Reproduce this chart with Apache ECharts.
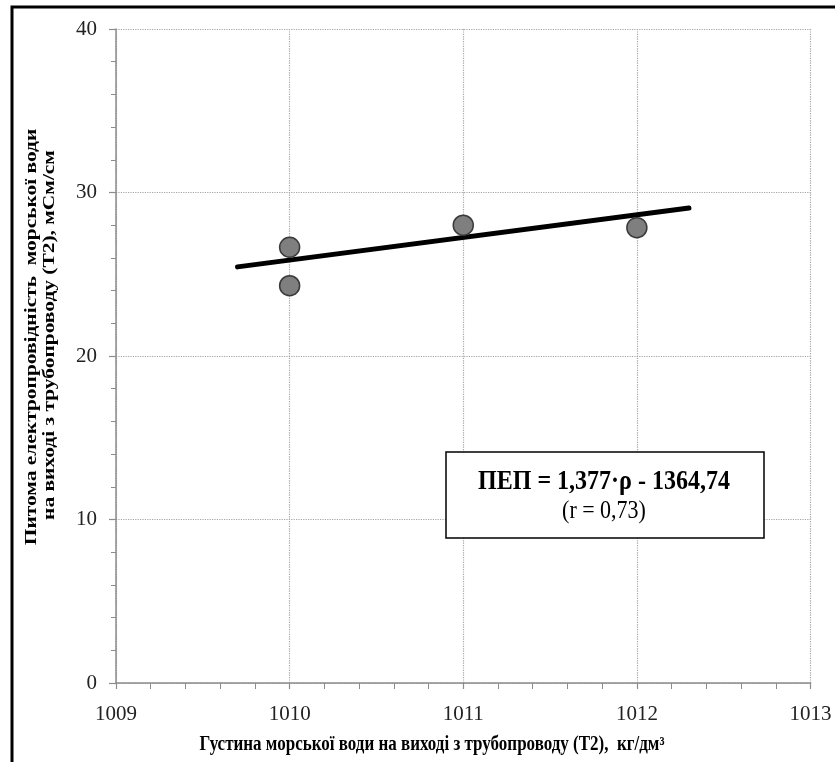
<!DOCTYPE html>
<html>
<head>
<meta charset="utf-8">
<script src="https://cdn.jsdelivr.net/npm/echarts@6/dist/echarts.min.js"></script>
<style>
html,body{margin:0;padding:0;background:#fff;}
#chart{width:835px;height:762px;}
</style>
</head>
<body>
<div id="chart"></div>
<script>
// Data
const densityX = [1010, 1010, 1011, 1012];
const conductivityY = [26.65, 24.3, 28.0, 27.85];
const trendX = [1009.7, 1012.3];
const trendY = [25.45, 29.05];
const xTicks = [1009, 1010, 1011, 1012, 1013];
const yTicks = [0, 10, 20, 30, 40];

const xTitle = 'Густина морської води на виході з трубопроводу (Т2),  кг/дм³';
const yTitle1 = 'Питома електропровідність  морської води';
const yTitle2 = 'на виході з трубопроводу (Т2), мСм/см';
const eqLine1 = 'ПЕП = 1,377·ρ - 1364,74';
const eqLine2 = '(r = 0,73)';

const chart = echarts.init(document.getElementById('chart'), null, {renderer: 'canvas'});
const serif = '"Liberation Serif", "DejaVu Serif", serif';
const axisGray = '#8c8c8c';
const gridGray = '#a6a6a6';

const option = {
  backgroundColor: '#fff',
  animation: false,
  grid: {left: 116, right: 24.5, top: 29, bottom: 79, containLabel: false},
  xAxis: {
    type: 'value',
    min: xTicks[0], max: xTicks[xTicks.length - 1], interval: 1,
    axisLine: {show: true, lineStyle: {color: axisGray, width: 1.5}},
    axisTick: {show: true, length: 6, lineStyle: {color: axisGray, width: 1.2}},
    minorTick: {show: true, splitNumber: 5, length: 6, lineStyle: {color: axisGray, width: 1}},
    axisLabel: {margin: 21, fontFamily: serif, fontSize: 21, color: '#222',
      formatter: v => String(v)},
    splitLine: {show: true, lineStyle: {color: gridGray, type: 'dotted', width: 1.2}}
  },
  yAxis: {
    type: 'value',
    min: yTicks[0], max: yTicks[yTicks.length - 1], interval: 10,
    axisLine: {show: true, onZero: false, lineStyle: {color: axisGray, width: 1.5}},
    axisTick: {show: true, length: 7, lineStyle: {color: axisGray, width: 1.2}},
    minorTick: {show: true, splitNumber: 5, length: 5, lineStyle: {color: axisGray, width: 1}},
    axisLabel: {margin: 19, fontFamily: serif, fontSize: 21, color: '#222',
      formatter: v => String(v)},
    splitLine: {show: true, lineStyle: {color: gridGray, type: 'dotted', width: 1.2}}
  },
  series: [
    {
      type: 'line',
      data: trendX.map((x, i) => [x, trendY[i]]),
      symbol: 'none',
      lineStyle: {color: '#000', width: 5, cap: 'round'},
      z: 3
    },
    {
      type: 'scatter',
      data: densityX.map((x, i) => [x, conductivityY[i]]),
      symbol: 'circle',
      symbolSize: 20,
      itemStyle: {color: '#7f7f7f', borderColor: '#3a3a3a', borderWidth: 1.5, opacity: 1},
      z: 4
    }
  ],
  graphic: [
    {
      type: 'rect', z: 0, silent: true,
      shape: {x: 12, y: 7, width: 900, height: 900},
      style: {fill: 'none', stroke: '#000', lineWidth: 3}
    },
    {
      type: 'rect', z: 10,
      shape: {x: 446, y: 452, width: 318, height: 86},
      style: {fill: '#fff', stroke: '#000', lineWidth: 1.5}
    },
    {
      type: 'text', z: 11, x: 604, y: 482, scaleY: 1.12,
      style: {text: eqLine1, x: 0, y: 0, align: 'center', verticalAlign: 'middle',
        font: 'bold 24px ' + serif, fill: '#000'}
    },
    {
      type: 'text', z: 11, x: 604, y: 512, scaleY: 1.1,
      style: {text: eqLine2, x: 0, y: 0, align: 'center', verticalAlign: 'middle',
        font: '22px ' + serif, fill: '#000'}
    },
    {
      type: 'text', z: 11, x: 432, y: 745, scaleY: 1.2,
      style: {text: xTitle, x: 0, y: 0, align: 'center', verticalAlign: 'middle',
        font: 'bold 17px ' + serif, fill: '#000'}
    },
    {
      type: 'text', z: 11, x: 32, y: 337, rotation: Math.PI / 2, scaleX: 1.26,
      style: {text: yTitle1, x: 0, y: 0, align: 'center', verticalAlign: 'middle',
        font: 'bold 17px ' + serif, fill: '#000'}
    },
    {
      type: 'text', z: 11, x: 50, y: 335, rotation: Math.PI / 2, scaleX: 1.26,
      style: {text: yTitle2, x: 0, y: 0, align: 'center', verticalAlign: 'middle',
        font: 'bold 17px ' + serif, fill: '#000'}
    }
  ]
};
chart.setOption(option);
</script>
</body>
</html>
